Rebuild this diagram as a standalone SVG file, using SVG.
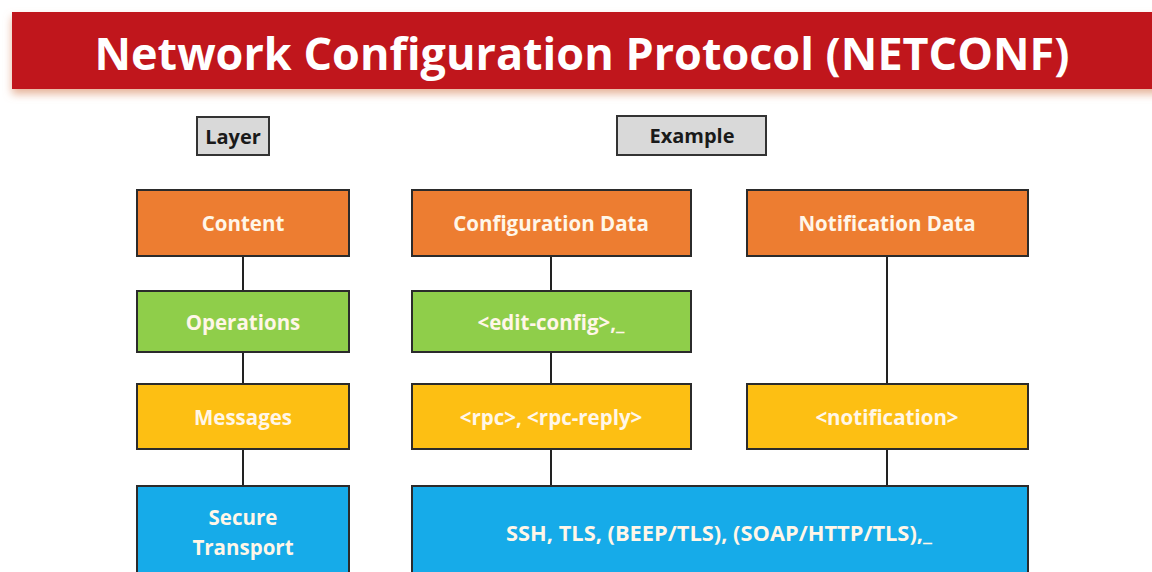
<svg xmlns="http://www.w3.org/2000/svg" width="1152" height="572" viewBox="0 0 1152 572">
  <defs>
    <filter id="shadow" x="-5%" y="-20%" width="110%" height="150%">
      <feDropShadow dx="0" dy="5" stdDeviation="4" flood-color="#e0a080" flood-opacity="0.8"/>
    </filter>
  </defs>
  <style>
    .box { stroke: #2b2b2b; stroke-width: 2; }
    .content { fill: #ed7d31; }
    .ops { fill: #8fce4a; }
    .msg { fill: #fdbf13; }
    .transport { fill: #16abe9; }
    .hdr { fill: #d9d9d9; stroke: #333; stroke-width: 2; }
    .t { font-family: "Open Sans", "Noto Sans", "Liberation Sans", sans-serif; font-weight: bold; text-anchor: middle; dominant-baseline: central; }
    .lbl { font-size: 20.5px; fill: #fff6e8; }
    .hlbl { font-size: 20px; fill: #1a1a1a; }
    .wire { stroke: #222; stroke-width: 2; fill: none; }
  </style>

  <rect width="1152" height="572" fill="#ffffff"/>

  <!-- title banner -->
  <g id="title">
    <rect x="12" y="12" width="1150" height="77" fill="#c0141a" filter="url(#shadow)"/>
    <text class="t" x="582" y="52" font-size="45" fill="#ffffff" textLength="975" lengthAdjust="spacingAndGlyphs">Network Configuration Protocol (NETCONF)</text>
  </g>

  <!-- column headers -->
  <g id="hdr-layer">
    <rect class="hdr" x="197" y="117" width="72" height="38"/>
    <text class="t hlbl" x="233" y="136">Layer</text>
  </g>
  <g id="hdr-example">
    <rect class="hdr" x="617" y="116" width="149" height="39"/>
    <text class="t hlbl" x="692" y="135">Example</text>
  </g>

  <!-- connectors -->
  <g id="connectors">
    <path class="wire" d="M243 256V291M243 352V384M243 449V486"/>
    <path class="wire" d="M551 256V291M551 352V384M551 449V486"/>
    <path class="wire" d="M887 256V384M887 449V486"/>
  </g>

  <!-- layer column -->
  <g id="content">
    <rect class="box content" x="137" y="190" width="212" height="66"/>
    <text class="t lbl" x="243" y="223">Content</text>
  </g>
  <g id="operations">
    <rect class="box ops" x="137" y="291" width="212" height="61"/>
    <text class="t lbl" x="243" y="322">Operations</text>
  </g>
  <g id="messages">
    <rect class="box msg" x="137" y="384" width="212" height="65"/>
    <text class="t lbl" x="243" y="417">Messages</text>
  </g>
  <g id="secure-transport">
    <rect class="box transport" x="137" y="486" width="212" height="100"/>
    <text class="t lbl" x="243" y="517">Secure</text>
    <text class="t lbl" x="243" y="547">Transport</text>
  </g>

  <!-- example column -->
  <g id="configuration-data">
    <rect class="box content" x="412" y="190" width="279" height="66"/>
    <text class="t lbl" x="551" y="223">Configuration Data</text>
  </g>
  <g id="notification-data">
    <rect class="box content" x="747" y="190" width="281" height="66"/>
    <text class="t lbl" x="887" y="223">Notification Data</text>
  </g>
  <g id="edit-config">
    <rect class="box ops" x="412" y="291" width="279" height="61"/>
    <text class="t lbl" x="551" y="322">&lt;edit-config&gt;,_</text>
  </g>
  <g id="rpc">
    <rect class="box msg" x="412" y="384" width="279" height="65"/>
    <text class="t lbl" x="551" y="417">&lt;rpc&gt;, &lt;rpc-reply&gt;</text>
  </g>
  <g id="notification">
    <rect class="box msg" x="747" y="384" width="281" height="65"/>
    <text class="t lbl" x="887" y="417">&lt;notification&gt;</text>
  </g>
  <g id="transports">
    <rect class="box transport" x="412" y="486" width="616" height="100"/>
    <text class="t lbl" x="719" y="533" textLength="426" lengthAdjust="spacingAndGlyphs">SSH, TLS, (BEEP/TLS), (SOAP/HTTP/TLS),_</text>
  </g>
</svg>
